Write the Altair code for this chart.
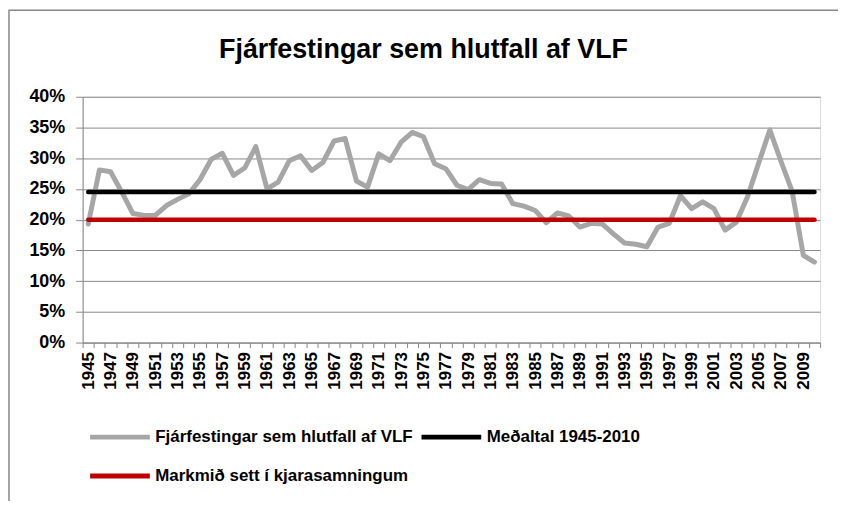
import altair as alt
import pandas as pd

# ---- data ----
years = list(range(1945, 2011))
invest_pct = [
    19.3, 28.1, 27.8, 24.5, 21.0, 20.7, 20.7, 22.3, 23.3, 24.2,
    26.5, 29.8, 30.8, 27.2, 28.4, 31.9, 25.0, 26.1, 29.6, 30.4,
    28.0, 29.3, 32.8, 33.2, 26.3, 25.3, 30.7, 29.6, 32.6, 34.2,
    33.5, 29.1, 28.3, 25.6, 24.9, 26.5, 25.9, 25.8, 22.6, 22.2,
    21.5, 19.5, 21.1, 20.6, 18.8, 19.4, 19.3, 17.7, 16.2, 16.0,
    15.6, 18.8, 19.4, 23.9, 21.8, 22.9, 21.8, 18.3, 19.6, 23.7,
    29.2, 34.6, 29.5, 24.6, 14.2, 13.1,
]
mean_pct = 24.5
target_pct = 20.0
series_names = [
    "Fjárfestingar sem hlutfall af VLF",
    "Meðaltal 1945-2010",
    "Markmið sett í kjarasamningum",
]
series_colors = ["#A6A6A6", "#000000", "#C00000"]
y_ticks = [0, 5, 10, 15, 20, 25, 30, 35, 40]
title_text = "Fjárfestingar sem hlutfall af VLF"

df_main = pd.DataFrame({"year": years, "value": invest_pct, "series": series_names[0]})
df_mean = pd.DataFrame({"year": [years[0], years[-1]], "value": [mean_pct, mean_pct],
                        "series": series_names[1]})
df_target = pd.DataFrame({"year": [years[0], years[-1]], "value": [target_pct, target_pct],
                          "series": series_names[2]})

FONT = "Liberation Sans"
GRID = "#878787"

x_enc = alt.X(
    "year:O",
    scale=alt.Scale(type="band", paddingInner=0, paddingOuter=0),
    axis=alt.Axis(
        title=None, labelAngle=-90, labelOverlap=False,
        labelExpr="datum.value % 2 == 1 ? datum.label : ''",
        tickBand="extent", tickSize=5, tickColor=GRID, domainColor=GRID,
        labelFont=FONT, labelFontSize=17, labelFontWeight="bold", labelColor="black",
        labelPadding=4, grid=False,
    ),
)
y_enc = alt.Y(
    "value:Q",
    scale=alt.Scale(domain=[0, 40], nice=False, zero=True),
    axis=alt.Axis(
        title=None, values=y_ticks, labelExpr="datum.value + '%'",
        tickSize=7, tickColor=GRID, domainColor=GRID, gridColor=GRID, grid=True,
        labelFont=FONT, labelFontSize=18, labelFontWeight="bold", labelColor="black",
        labelPadding=11,
    ),
)
color_enc = alt.Color(
    "series:N",
    sort=series_names,
    scale=alt.Scale(domain=series_names, range=series_colors),
    legend=alt.Legend(
        title=None, orient="none", legendX=5, legendY=332, columns=2,
        direction="horizontal", values=series_names,
        symbolType="stroke", symbolSize=3600, symbolStrokeWidth=5,
        labelFont=FONT, labelFontSize=17, labelFontWeight="bold", labelColor="black",
        labelOffset=3, columnPadding=6, rowPadding=19, clipHeight=20, labelLimit=500,
    ),
)

frame = alt.Chart(alt.Data(values=[{"a": 1}])).mark_rect(
    fill=None, stroke=GRID, strokeWidth=1.5
).encode(
    x=alt.value(-74), x2=alt.value(761), y=alt.value(-87), y2=alt.value(440)
)

line_main = alt.Chart(df_main).mark_line(
    strokeWidth=5, strokeCap="round", strokeJoin="round"
).encode(x=x_enc, y=y_enc, color=color_enc)
line_mean = alt.Chart(df_mean).mark_line(
    strokeWidth=4.5, strokeCap="round"
).encode(x=x_enc, y=y_enc, color=color_enc)
line_target = alt.Chart(df_target).mark_line(
    strokeWidth=4.5, strokeCap="round"
).encode(x=x_enc, y=y_enc, color=color_enc)

chart = alt.layer(frame, line_main, line_mean, line_target).properties(
    width=741, height=247,
    autosize=alt.AutoSizeParams(type="none"),
    padding={"left": 75, "top": 88, "right": 18, "bottom": 158},
    title=alt.TitleParams(
        text=title_text, font=FONT, fontSize=27, fontWeight="bold", color="black",
        anchor="middle", frame="group", baseline="alphabetic", offset=-76, dx=-28,
    ),
).configure_view(stroke=None).configure(background="white")

chart.save("out.html", embed_options={"renderer": "svg", "actions": False})
